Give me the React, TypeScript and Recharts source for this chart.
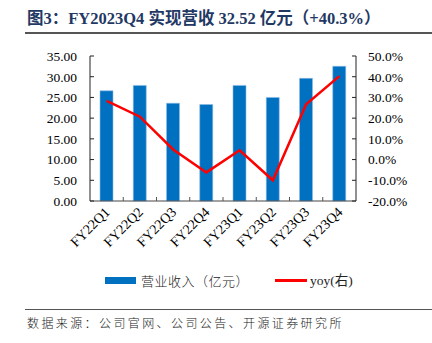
import React from 'react';
import { ComposedChart, Bar, Line, XAxis, YAxis } from 'recharts';

const categories = ['FY22Q1', 'FY22Q2', 'FY22Q3', 'FY22Q4', 'FY23Q1', 'FY23Q2', 'FY23Q3', 'FY23Q4'];
const revenue = [26.6, 27.9, 23.6, 23.3, 27.9, 25.0, 29.6, 32.52];
const yoy = [28.3, 20.7, 4.9, -6.2, 4.5, -10.0, 26.7, 40.3];
const leftTicks = [0, 5, 10, 15, 20, 25, 30, 35];
const rightTicks = [-20, -10, 0, 10, 20, 30, 40, 50];

const data = categories.map((c, i) => ({ name: c, revenue: revenue[i], yoy: yoy[i] }));

const serif = "'Liberation Serif', 'Times New Roman', serif";
const cjk = "'Liberation Serif', 'Noto Sans CJK SC', serif";

const XTick = (props: any) => {
  const { x, y, payload, width, visibleTicksCount, index } = props;
  const band = width / visibleTicksCount;
  return (
    <g>
      {index < visibleTicksCount - 1 && (
        <line x1={x + band / 2} x2={x + band / 2} y1={y} y2={y - 4} stroke="#555" strokeWidth={1} />
      )}
      <text
        x={x + 4}
        y={y + 12}
        textAnchor="end"
        transform={`rotate(-45, ${x + 4}, ${y + 12})`}
        fontFamily={serif}
        fontSize={14}
        fill="#000"
      >
        {payload.value}
      </text>
    </g>
  );
};

export default function App() {
  return (
    <div style={{ position: 'absolute', left: 0, top: 0, width: 432, height: 343, background: '#fff', overflow: 'hidden' }}>
      <div
        style={{
          position: 'absolute',
          left: 27,
          top: 9,
          fontFamily: cjk,
          fontWeight: 'bold',
          fontSize: 16.5,
          color: '#1F3864',
          whiteSpace: 'nowrap',
          lineHeight: '20px',
        }}
      >
        图3：FY2023Q4 实现营收 32.52 亿元（+40.3%）
      </div>
      <div style={{ position: 'absolute', left: 25, top: 32, width: 407, height: 1.5, background: '#555' }} />
      <div style={{ position: 'absolute', left: 0, top: 0 }}>
        <ComposedChart
          width={432}
          height={343}
          data={data}
          margin={{ top: 56, right: 0, bottom: 82, left: 0 }}
          barSize={13}
        >
          <XAxis
            dataKey="name"
            xAxisId="x"
            height={60}
            tickLine={false}
            tickSize={0}
            tickMargin={0}
            interval={0}
            axisLine={{ stroke: '#444' }}
            tick={<XTick />}
          />
          <YAxis
            yAxisId="left"
            orientation="left"
            width={90}
            domain={[0, 35]}
            ticks={leftTicks}
            interval={0}
            tickFormatter={(v: number) => v.toFixed(2)}
            axisLine={{ stroke: '#222' }}
            tickLine={{ stroke: '#222' }}
            tickSize={-4}
            tickMargin={17}
            tick={{ fontFamily: serif, fontSize: 13.5, fill: '#000' }}
          />
          <YAxis
            yAxisId="right"
            orientation="right"
            width={76}
            domain={[-20, 50]}
            ticks={rightTicks}
            interval={0}
            tickFormatter={(v: number) => v.toFixed(1) + '%'}
            axisLine={{ stroke: '#222' }}
            tickLine={{ stroke: '#222' }}
            tickSize={-4}
            tickMargin={16}
            tick={{ fontFamily: serif, fontSize: 13.5, fill: '#000' }}
          />
          <Bar
            dataKey="revenue"
            xAxisId="x"
            yAxisId="left"
            fill="#0070C0"
            stroke="#8fbce6"
            strokeWidth={0.6}
            isAnimationActive={false}
          />
          <Line
            dataKey="yoy"
            xAxisId="x"
            yAxisId="right"
            stroke="#FF0000"
            strokeWidth={2.5}
            dot={false}
            activeDot={false}
            type="linear"
            isAnimationActive={false}
          />
        </ComposedChart>
      </div>
      <div style={{ position: 'absolute', left: 105, top: 277, width: 31, height: 7, background: '#0070C0' }} />
      <div
        style={{
          position: 'absolute',
          left: 141,
          top: 272,
          fontFamily: "'Noto Sans CJK SC', sans-serif",
          fontWeight: 300,
          fontSize: 13,
          letterSpacing: 0.5,
          color: '#222',
          whiteSpace: 'nowrap',
          lineHeight: '18px',
        }}
      >
        营业收入（亿元）
      </div>
      <div style={{ position: 'absolute', left: 275, top: 279, width: 32, height: 2.5, background: '#FF0000' }} />
      <div
        style={{
          position: 'absolute',
          left: 310,
          top: 272,
          fontFamily: cjk,
          fontSize: 13.5,
          color: '#222',
          whiteSpace: 'nowrap',
          lineHeight: '18px',
        }}
      >
        yoy(右)
      </div>
      <div style={{ position: 'absolute', left: 25, top: 308.5, width: 407, height: 1.3, background: '#555' }} />
      <div
        style={{
          position: 'absolute',
          left: 27,
          top: 314,
          fontFamily: "'Noto Sans CJK SC', sans-serif",
          fontWeight: 300,
          fontSize: 12,
          letterSpacing: 2.4,
          color: '#222',
          whiteSpace: 'nowrap',
          lineHeight: '17px',
        }}
      >
        数据来源：公司官网、公司公告、开源证券研究所
      </div>
    </div>
  );
}
